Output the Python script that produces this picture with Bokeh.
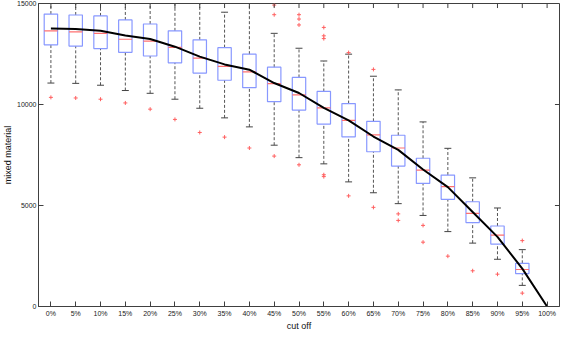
import numpy as np
from bokeh.plotting import figure
from bokeh.models import FixedTicker, Range1d, ColumnDataSource
from bokeh.embed import file_html
from bokeh.resources import INLINE

categories = ["0%", "5%", "10%", "15%", "20%", "25%", "30%", "35%", "40%", "45%", "50%",
              "55%", "60%", "65%", "70%", "75%", "80%", "85%", "90%", "95%", "100%"]
q3 = [14477, 14431, 14385, 14185, 13985, 13646, 13200, 12815, 12492, 11846, 11339,
      10646, 10046, 9169, 8477, 7338, 6508, 5185, 3985, 2138, 0]
median = [13646, 13600, 13523, 13231, 13138, 12831, 12292, 11892, 11615, 11031, 10477,
          9831, 9215, 8492, 7846, 6754, 5938, 4615, 3538, 1831, 0]
q1 = [12954, 12893, 12769, 12585, 12400, 12062, 11554, 11200, 10831, 10138, 9723,
      9031, 8400, 7662, 6954, 6092, 5308, 4154, 3092, 1631, 0]
upper = [15400, 15400, 15400, 15300, 15300, 15200, 15200, 14569, 15000, 13523, 12785,
         12154, 12492, 11400, 10723, 9138, 7831, 6369, 4877, 2815, 0]
lower = [11062, 11046, 10954, 10692, 10554, 10262, 9815, 9338, 8892, 7985, 7369,
         7062, 6169, 5631, 5092, 4508, 3708, 3138, 2338, 1046, 0]
mean_line = [13767, 13738, 13646, 13415, 13246, 12862, 12369, 11985, 11723, 11062, 10569,
             9831, 9215, 8415, 7754, 6785, 5908, 4677, 3446, 1877, 0]
outlier_cat = ["0%", "5%", "10%", "15%", "20%", "25%", "30%", "35%", "40%",
               "45%", "45%", "45%", "50%", "50%", "50%", "50%",
               "55%", "55%", "55%", "55%", "55%", "60%", "60%", "65%", "65%",
               "70%", "70%", "75%", "75%", "80%", "85%", "90%", "95%", "95%"]
outlier_val = [10352, 10323, 10262, 10077, 9769, 9262, 8615, 8385, 7846,
               14923, 14446, 7446, 14446, 14231, 13938, 7015,
               13815, 13400, 13262, 6523, 6431, 12569, 5477, 11738, 4908,
               4585, 4262, 4015, 3185, 2492, 1769, 1600, 3262, 662]
y_ticks = [0, 5000, 10000, 15000]

xs = np.arange(1, len(categories) + 1)
pos = {c: i + 1 for i, c in enumerate(categories)}
ox = [pos[c] for c in outlier_cat]

FONT = "Liberation Sans"
AX = "#404040"
Y0, Y1 = 0, 15000
X0, X1 = 0.5, len(categories) + 0.5

p = figure(width=560, height=333, output_backend="svg", toolbar_location=None,
           x_range=Range1d(X0, X1), y_range=Range1d(Y0, Y1),
           min_border_left=0, min_border_right=1, min_border_top=3, min_border_bottom=0)
p.grid.visible = False
p.outline_line_color = AX
p.background_fill_color = "white"
p.border_fill_color = "white"

src = ColumnDataSource(dict(x=xs, q1=q1, q3=q3, med=median, up=upper, lo=lower, mean=mean_line))

hw = 0.27
cw = 0.14
p.segment(x0="x", y0="q3", x1="x", y1="up", source=src, line_color="#555555", line_width=1, line_dash="3 2")
p.segment(x0="x", y0="lo", x1="x", y1="q1", source=src, line_color="#555555", line_width=1, line_dash="3 2")
p.segment(x0=xs - cw, y0=upper, x1=xs + cw, y1=upper, line_color="#444444", line_width=1)
p.segment(x0=xs - cw, y0=lower, x1=xs + cw, y1=lower, line_color="#444444", line_width=1)
p.quad(left=xs - hw, right=xs + hw, bottom=q1, top=q3, fill_color=None,
       line_color="#8898ff", line_width=1.2)
p.segment(x0=xs - hw, y0=median, x1=xs + hw, y1=median, line_color="#ff7070", line_width=1.2)
p.scatter(ox, outlier_val, marker="cross", size=4, line_color="#ff6060", line_width=1)
p.line(xs, mean_line, line_color="black", line_width=2)

# inward ticks on the top and right frame edges (MATLAB box style)
tick_dy = (Y1 - Y0) * 4.5 / 300
tick_dx = (X1 - X0) * 4.5 / 515
p.segment(x0=xs, y0=[Y1] * len(xs), x1=xs, y1=[Y1 - tick_dy] * len(xs), line_color=AX, line_width=1)
p.segment(x0=[X1] * len(y_ticks), y0=y_ticks, x1=[X1 - tick_dx] * len(y_ticks), y1=y_ticks,
          line_color=AX, line_width=1)

p.xaxis.ticker = FixedTicker(ticks=list(xs))
p.xaxis.major_label_overrides = {int(i): c for i, c in zip(xs, categories)}
p.yaxis.ticker = FixedTicker(ticks=y_ticks)
for ax in (p.xaxis[0], p.yaxis[0]):
    ax.major_tick_in = 5
    ax.major_tick_out = 0
    ax.minor_tick_in = 0
    ax.minor_tick_out = 0
    ax.minor_tick_line_color = None
    ax.axis_line_color = AX
    ax.major_tick_line_color = AX
    ax.major_label_text_font = FONT
    ax.major_label_text_font_size = "7px"
    ax.major_label_text_color = "#222222"
    ax.axis_label_text_font = FONT
    ax.axis_label_text_font_size = "9px"
    ax.axis_label_text_font_style = "normal"
    ax.axis_label_text_color = "#111111"
p.xaxis.axis_label = "cut off"
p.yaxis.axis_label = "mixed material"
p.xaxis.major_label_standoff = 3
p.yaxis.major_label_standoff = 2
p.xaxis.axis_label_standoff = 1
p.yaxis.axis_label_standoff = 1

open("out.html", "w").write(file_html(p, INLINE))
